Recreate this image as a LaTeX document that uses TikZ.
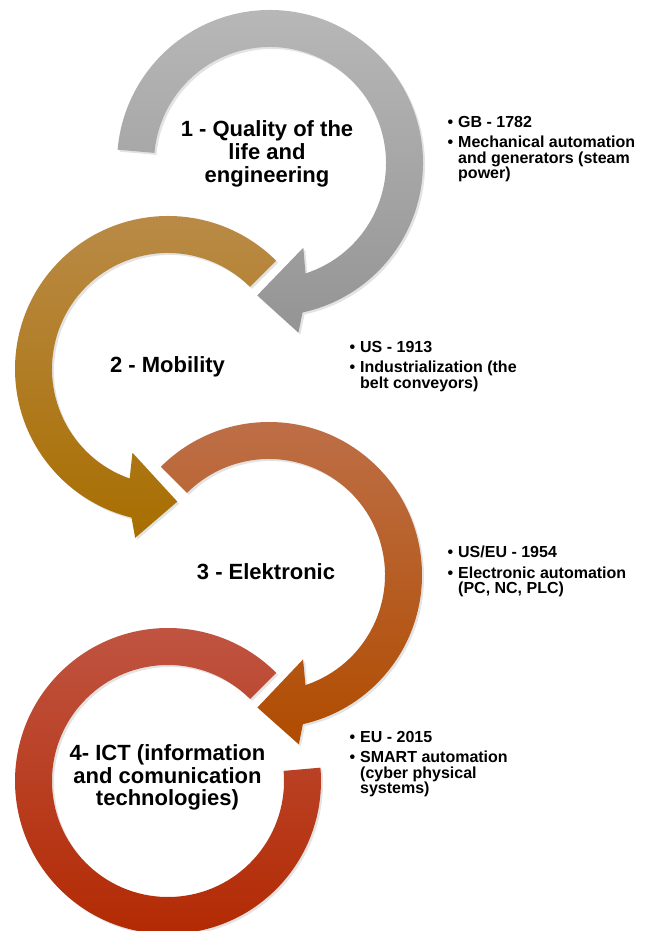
\documentclass[tikz,border=0pt]{standalone}
\usepackage{fontspec}
\setmainfont{Liberation Sans}
\usepackage{tikz}
\usetikzlibrary{calc,shadows}
\usepackage{xcolor}
\definecolor{cagreytop}{RGB}{184,184,184}
\definecolor{cagreybot}{RGB}{148,148,148}
\definecolor{cabrowntop}{RGB}{186,140,74}
\definecolor{cabrownbot}{RGB}{168,110,0}
\definecolor{caorangetop}{RGB}{190,112,74}
\definecolor{caorangebot}{RGB}{176,76,0}
\definecolor{caredtop}{RGB}{192,86,68}
\definecolor{caredbot}{RGB}{178,40,0}
\tikzstyle{band} = [drop shadow={shadow xshift=2pt, shadow yshift=-2pt, opacity=0.22}]
\tikzstyle{title} = [font=\fontsize{22}{22.7}\selectfont\bfseries, align=center, inner sep=0pt]
\tikzstyle{info} = [font=\fontsize{16}{15.5}\selectfont\bfseries, align=left, anchor=north west, inner sep=0pt]
\newcommand{\rout}{153}
\newcommand{\rin}{116}
% clockwise / counterclockwise band with head: center, start angle, tip angle
\newcommand{\cwarrow}[3]{($(#1)+(#2:\rout)$) arc[start angle=#2, end angle=#3+17.8, radius=\rout]
  -- ($(#1)+(#3+15:172)$) -- ($(#1)+(#3:133)$) -- ($(#1)+(#3+27:91)$)
  -- ($(#1)+(#3+23.3:\rin)$) arc[start angle=#3+23.3, end angle=#2, radius=\rin] -- cycle}
\newcommand{\ccwarrow}[3]{($(#1)+(#2:\rout)$) arc[start angle=#2, end angle=#3-17.8, radius=\rout]
  -- ($(#1)+(#3-15:172)$) -- ($(#1)+(#3:133)$) -- ($(#1)+(#3-27:91)$)
  -- ($(#1)+(#3-23.3:\rin)$) arc[start angle=#3-23.3, end angle=#2, radius=\rin] -- cycle}
\begin{document}
\begin{tikzpicture}[x=1pt, y=1pt]
\useasboundingbox (0,0) rectangle (647,931);

% Centers
\coordinate (c1) at (270,768);
\coordinate (c2) at (168,562);
\coordinate (c3) at (269,356);
\coordinate (c4) at (168,150);

% Circular arrows
\shade[band, top color=cagreytop, bottom color=cagreybot] \cwarrow{c1}{175}{-95.5};
\shade[band, top color=cabrowntop, bottom color=cabrownbot] \ccwarrow{c2}{45}{274};
\shade[band, top color=caorangetop, bottom color=caorangebot] \cwarrow{c3}{135}{-95};
\shade[band, top color=caredtop, bottom color=caredbot] ($(c4)+(45:\rout)$) arc[start angle=45, end angle=365, radius=\rout]
  -- ($(c4)+(365:\rin)$) arc[start angle=365, end angle=45, radius=\rin] -- cycle;

% Stages
\node[title] (t1) at (267,777) {1 - Quality of the\\life and\\engineering};
\node[title] (t2) at (167.5,564) {2 - Mobility};
\node[title] (t3) at (266,359) {3 - Elektronic};
\node[title] (t4) at (167.5,153.5) {4- ICT (information\\and comunication\\technologies)};

% Details
\node[info] (i1) at (458,815) {\llap{\textbullet\hspace{5pt}}GB - 1782\\[5pt]\llap{\textbullet\hspace{5pt}}Mechanical automation\\and generators (steam\\power)};
\node[info] (i2) at (360,590) {\llap{\textbullet\hspace{5pt}}US - 1913\\[5pt]\llap{\textbullet\hspace{5pt}}Industrialization (the\\belt conveyors)};
\node[info] (i3) at (458,385) {\llap{\textbullet\hspace{5pt}}US/EU - 1954\\[5pt]\llap{\textbullet\hspace{5pt}}Electronic automation\\(PC, NC, PLC)};
\node[info] (i4) at (360,200) {\llap{\textbullet\hspace{5pt}}EU - 2015\\[5pt]\llap{\textbullet\hspace{5pt}}SMART automation\\(cyber physical\\systems)};
\end{tikzpicture}
\end{document}
